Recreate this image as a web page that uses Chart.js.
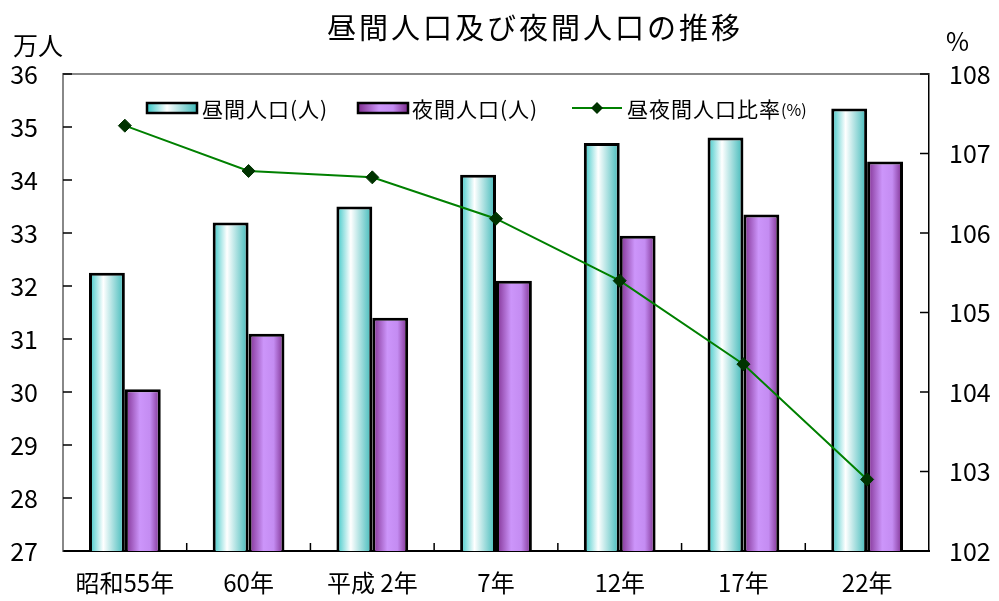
<!DOCTYPE html>
<html>
<head>
<meta charset="utf-8">
<script src="https://cdn.jsdelivr.net/npm/chart.js@4"></script>
<style>
  html, body { margin: 0; padding: 0; background: #fff; }
</style>
</head>
<body>
<canvas id="popChart" width="999" height="601"></canvas>
<script>
const categories = ['昭和55年', '60年', '平成 2年', '7年', '12年', '17年', '22年'];
const dayPop = [32.25, 33.2, 33.5, 34.1, 34.7, 34.8, 35.35];
const nightPop = [30.05, 31.1, 31.4, 32.1, 32.95, 33.35, 34.35];
const ratio = [107.35, 106.78, 106.7, 106.18, 105.4, 104.35, 102.9];
const leftTicks = [27, 28, 29, 30, 31, 32, 33, 34, 35, 36];
const rightTicks = [102, 103, 104, 105, 106, 107, 108];

const FONT = '"Noto Sans CJK JP", "Noto Sans", sans-serif';
const CAT_PCT = 0.58;
const dayStops = [[0, '#36c6c6'], [0.4, '#ffffff'], [1, '#3cb8b8']];
const nightStops = [[0, '#7e2d8e'], [0.42, '#cc95fa'], [0.7, '#c48cf2'], [1, '#7a2a8a']];

function barGradient(context, stops, side) {
    const chart = context.chart;
    const xs = chart.scales.x;
    if (!xs || context.dataIndex == null) return stops[1][1];
    const bw = xs.width / categories.length * CAT_PCT / 2;
    const c = xs.getPixelForValue(context.dataIndex);
    if (!isFinite(bw) || !isFinite(c) || bw <= 0) return stops[1][1];
    const x0 = side < 0 ? c - bw : c;
    const g = chart.ctx.createLinearGradient(x0, 0, x0 + bw, 0);
    stops.forEach(s => g.addColorStop(s[0], s[1]));
    return g;
}

function legendBox(ctx, x, y, stops) {
    const g = ctx.createLinearGradient(x, 0, x + 50, 0);
    stops.forEach(s => g.addColorStop(s[0], s[1]));
    ctx.fillStyle = g;
    ctx.fillRect(x, y, 50, 10);
    ctx.strokeStyle = '#000';
    ctx.lineWidth = 2.5;
    ctx.strokeRect(x, y, 50, 10);
}

// title, units, inward ticks and the legend
const decorations = {
    id: 'decorations',
    afterDraw(chart) {
        const ctx = chart.ctx;
        const a = chart.chartArea;
        ctx.save();

        // top border
        ctx.strokeStyle = '#888';
        ctx.lineWidth = 2;
        ctx.beginPath();
        ctx.moveTo(a.left, a.top);
        ctx.lineTo(a.right, a.top);
        ctx.stroke();

        // inward tick marks
        ctx.strokeStyle = '#000';
        ctx.lineWidth = 1.5;
        ctx.beginPath();
        leftTicks.forEach(v => {
            const y = chart.scales.y.getPixelForValue(v);
            ctx.moveTo(a.left, y);
            ctx.lineTo(a.left + 9, y);
        });
        rightTicks.forEach(v => {
            const y = chart.scales.y1.getPixelForValue(v);
            ctx.moveTo(a.right - 9, y);
            ctx.lineTo(a.right, y);
        });
        for (let i = 1; i < categories.length; i++) {
            const x = a.left + i * a.width / categories.length;
            ctx.moveTo(x, a.bottom);
            ctx.lineTo(x, a.bottom - 8);
        }
        ctx.stroke();

        // title
        ctx.fillStyle = '#000';
        ctx.textBaseline = 'middle';
        ctx.textAlign = 'left';
        ctx.font = '29px ' + FONT;
        ctx.letterSpacing = '3px';
        ctx.fillText('昼間人口及び夜間人口の推移', 327, 28);

        // units
        ctx.letterSpacing = '0px';
        ctx.font = '25px ' + FONT;
        ctx.fillText('万人', 13, 45);
        ctx.font = '25px ' + FONT;
        ctx.fillText('%', 946, 41);

        // legend
        ctx.font = '21px ' + FONT;
        ctx.letterSpacing = '1px';
        legendBox(ctx, 147, 103, dayStops);
        ctx.fillStyle = '#000';
        ctx.fillText('昼間人口(人)', 202, 109);
        legendBox(ctx, 358, 103, nightStops);
        ctx.fillStyle = '#000';
        ctx.fillText('夜間人口(人)', 412, 109);

        ctx.strokeStyle = '#008000';
        ctx.lineWidth = 2;
        ctx.beginPath();
        ctx.moveTo(572, 108);
        ctx.lineTo(622, 108);
        ctx.stroke();
        ctx.fillStyle = '#003300';
        ctx.beginPath();
        ctx.moveTo(597, 102);
        ctx.lineTo(603, 108);
        ctx.lineTo(597, 114);
        ctx.lineTo(591, 108);
        ctx.closePath();
        ctx.fill();
        ctx.fillStyle = '#000';
        const label = '昼夜間人口比率';
        ctx.fillText(label, 627, 109);
        const w = ctx.measureText(label).width;
        ctx.letterSpacing = '0px';
        ctx.font = '16px ' + FONT;
        ctx.fillText('(%)', 627 + w, 110);

        ctx.restore();
    }
};

const ctx = document.getElementById('popChart').getContext('2d');

const popChart = new Chart(ctx, {
    type: 'bar',
    data: {
        labels: categories,
        datasets: [
            {
                type: 'line',
                label: '昼夜間人口比率(%)',
                data: ratio,
                yAxisID: 'y1',
                borderColor: '#008000',
                borderWidth: 2,
                pointStyle: 'rectRot',
                pointRadius: 6.5,
                pointBackgroundColor: '#003300',
                pointBorderColor: '#003300',
                pointBorderWidth: 1,
                tension: 0,
                order: 0
            },
            {
                label: '昼間人口(人)',
                data: dayPop,
                yAxisID: 'y',
                backgroundColor: c => barGradient(c, dayStops, -1),
                borderColor: '#000',
                borderWidth: 3,
                borderSkipped: false,
                barPercentage: 1,
                categoryPercentage: CAT_PCT,
                order: 1
            },
            {
                label: '夜間人口(人)',
                data: nightPop,
                yAxisID: 'y',
                backgroundColor: c => barGradient(c, nightStops, 1),
                borderColor: '#000',
                borderWidth: 3,
                borderSkipped: false,
                barPercentage: 1,
                categoryPercentage: CAT_PCT,
                order: 1
            }
        ]
    },
    options: {
        responsive: false,
        animation: false,
        layout: {
            padding: { top: 74, left: 0, right: 0, bottom: 0 }
        },
        plugins: {
            legend: { display: false },
            tooltip: { enabled: false },
            title: { display: false }
        },
        scales: {
            x: {
                grid: { display: false, drawTicks: false },
                border: { color: '#000', width: 2 },
                ticks: {
                    color: '#000',
                    font: { family: FONT, size: 24 },
                    padding: 17,
                    maxRotation: 0,
                    autoSkip: false
                },
                afterFit: s => { s.height = 50; }
            },
            y: {
                position: 'left',
                min: 27,
                max: 36,
                grid: { display: false, drawTicks: false },
                border: { color: '#888', width: 2 },
                ticks: {
                    stepSize: 1,
                    color: '#000',
                    font: { family: FONT, size: 25 },
                    padding: 25
                },
                afterFit: s => { s.width = 63; }
            },
            y1: {
                position: 'right',
                min: 102,
                max: 108,
                grid: { display: false, drawTicks: false },
                border: { color: '#000', width: 1.5 },
                ticks: {
                    stepSize: 1,
                    color: '#000',
                    font: { family: FONT, size: 25 },
                    padding: 20
                },
                afterFit: s => { s.width = 70; }
            }
        }
    },
    plugins: [decorations]
});
</script>
</body>
</html>
